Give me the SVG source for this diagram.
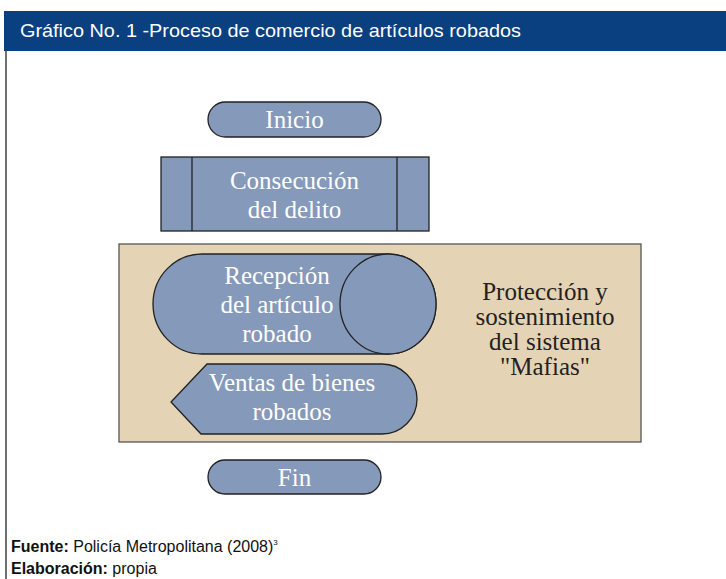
<svg xmlns="http://www.w3.org/2000/svg" width="726" height="579" viewBox="0 0 726 579">
<style>
.node{fill:#8599ba;stroke:#222;stroke-width:1.3}
.lbl{font-family:"Liberation Serif",serif;font-size:25px;fill:#fff;text-anchor:middle}
.dark{font-family:"Liberation Serif",serif;font-size:25px;fill:#222;text-anchor:middle}
.foot{font-family:"Liberation Sans",sans-serif;font-size:16px;fill:#111}
</style>
<rect x="0" y="0" width="726" height="579" fill="#fff"/>
<g id="header">
<rect x="4" y="11" width="722" height="40" fill="#0a4080"/>
<text x="20" y="37" font-family="'Liberation Sans',sans-serif" font-size="18.5" fill="#fff" textLength="501" lengthAdjust="spacingAndGlyphs">Gráfico No. 1 -Proceso de comercio de artículos robados</text>
</g>
<line x1="6" y1="51" x2="6" y2="579" stroke="#111" stroke-width="1.2"/>
<g id="connectors"></g>
<g id="proteccion">
<rect x="119" y="244" width="522" height="198" fill="#e4d3b4" stroke="#555" stroke-width="1.3"/>
<text class="dark" x="545" y="300">Protección y</text>
<text class="dark" x="545" y="325">sostenimiento</text>
<text class="dark" x="545" y="350">del sistema</text>
<text class="dark" x="545" y="375">"Mafias"</text>
</g>
<g id="inicio">
<rect class="node" x="208" y="102" width="173" height="35" rx="17.5"/>
<text class="lbl" x="294.5" y="128">Inicio</text>
</g>
<g id="consecucion">
<rect class="node" x="161" y="157" width="268" height="74"/>
<line x1="192" y1="157" x2="192" y2="231" stroke="#222" stroke-width="1.3"/>
<line x1="397" y1="157" x2="397" y2="231" stroke="#222" stroke-width="1.3"/>
<text class="lbl" x="294.5" y="189">Consecución</text>
<text class="lbl" x="294.5" y="218">del delito</text>
</g>
<g id="recepcion">
<path class="node" d="M202,254 H388 A48,50 0 0 1 388,354 H202 A49,50 0 0 1 202,254 Z"/>
<ellipse class="node" cx="388" cy="304" rx="48" ry="50"/>
<text class="lbl" x="277" y="284">Recepción</text>
<text class="lbl" x="277" y="313">del artículo</text>
<text class="lbl" x="277" y="342">robado</text>
</g>
<g id="ventas">
<path class="node" d="M207,364 H382 A35,35 0 0 1 382,434 H201 L171,402 Z"/>
<text class="lbl" x="292" y="391">Ventas de bienes</text>
<text class="lbl" x="292" y="420">robados</text>
</g>
<g id="fin">
<rect class="node" x="208" y="460" width="173" height="34" rx="17"/>
<text class="lbl" x="294.5" y="486">Fin</text>
</g>
<g id="footer">
<text class="foot" x="11" y="552"><tspan font-weight="bold">Fuente:</tspan> Policía Metropolitana (2008)<tspan font-size="8" dy="-7">3</tspan></text>
<text class="foot" x="11" y="574"><tspan font-weight="bold">Elaboración:</tspan> propia</text>
</g>
</svg>
